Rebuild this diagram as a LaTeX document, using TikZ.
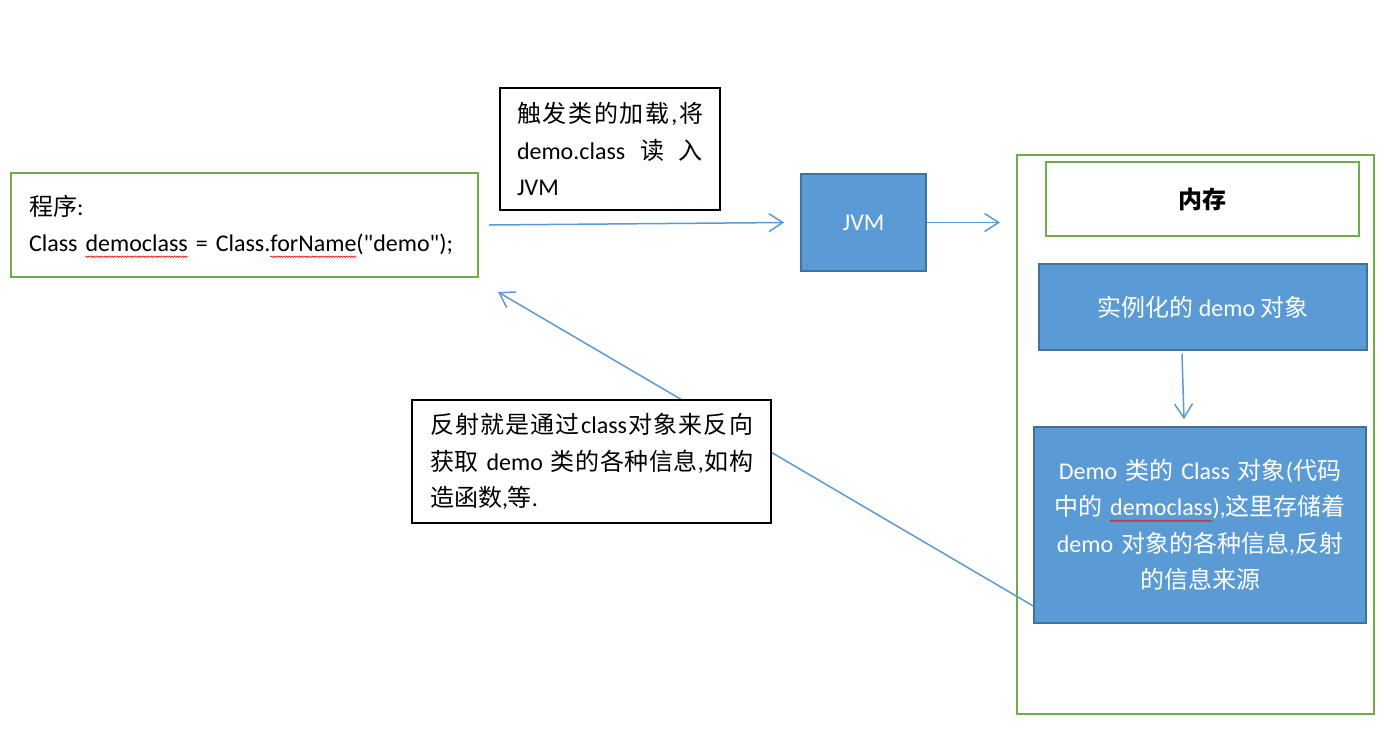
\documentclass[tikz,border=0pt]{standalone}
\usepackage{fontspec}
\setmainfont{Carlito}
\newfontfamily\cjk{Noto Sans CJK SC}
\usetikzlibrary{arrows.meta,decorations.pathmorphing}
\definecolor{gr}{HTML}{70AD47}
\definecolor{bl}{HTML}{5B9BD5}
\definecolor{bd}{HTML}{41719C}
\newcommand\zh[1]{{\cjk #1}}
\newcommand\dq{\XeTeXglyph\XeTeXcharglyph"22\relax}
\newcommand\jline[2]{\leavevmode\hbox to #1{#2}}
\newlength\sqw
\newcommand\sq[1]{\settowidth\sqw{#1}\leavevmode\rlap{\tikz[baseline=0pt]{\useasboundingbox (0pt,0pt);\draw[overlay,red,line width=0.6pt,decorate,decoration={zigzag,amplitude=0.7pt,segment length=2.6pt}] (0pt,-5pt) -- (\sqw,-5pt);}}#1}
\begin{document}
\begin{tikzpicture}[x=1pt,y=-1pt,
  every node/.style={font=\fontsize{24}{36.5}\selectfont, inner sep=0pt},
  gbox/.style={draw=gr, line width=2pt},
  nbox/.style={draw=black, line width=2pt, fill=white},
  bbox/.style={draw=bd, fill=bl, line width=1.5pt, text=white},
  conn/.style={draw=bl, line width=1.5pt, -{Straight Barb[length=14pt,width=18pt]}}]
\useasboundingbox (0,0) rectangle (1384,742);
\fill[white] (0,0) rectangle (1384,742);

\node[gbox, minimum width=467pt, minimum height=104pt, text width=431pt, inner xsep=18pt, align=left] (prog) at (244.5,225)
  {\zh{程序}:\\Class \sq{democlass} = Class.\sq{forName}(\dq demo\dq);};

\node[nbox, minimum width=220pt, minimum height=122pt, text width=186pt, inner xsep=17pt, align=left] (load) at (610,149)
  {\jline{186pt}{\zh{触}\hfill\zh{发}\hfill\zh{类}\hfill\zh{的}\hfill\zh{加}\hfill\zh{载}\hfill,\hfill\zh{将}}\\
   \jline{186pt}{demo.class\hfill\zh{读}\hfill\zh{入}}\\
   JVM};

\node[bbox, minimum width=125pt, minimum height=97pt] (jvm) at (863.5,222.5) {JVM};

\node[gbox, minimum width=357pt, minimum height=559pt] (mem) at (1195.5,434.5) {};
\node[gbox, minimum width=313pt, minimum height=74pt] (memt) at (1202.5,199) {\cjk\bfseries 内存};
\node[bbox, minimum width=328pt, minimum height=86pt] (inst) at (1203,307) {\zh{实例化的} demo \zh{对象}};
\node[bbox, minimum width=332pt, minimum height=196pt, text width=310pt, align=center] (dcls) at (1200,525)
  {Demo \zh{类的} Class \zh{对象}(\zh{代码}\\
   \zh{中的} \sq{democlass}),\zh{这里存储着}\\
   demo \zh{对象的各种信息},\zh{反射}\\
   \zh{的信息来源}};

\coordinate (memin) at (1000,222.5);
\coordinate (progin) at (498,292);

\draw[conn] ([xshift=10pt]prog.east) -- ([xshift=-16pt]jvm.west);
\draw[conn] (jvm.east) -- (memin);
\draw[conn] ([xshift=-21pt,yshift=-3pt]inst.south) -- ([xshift=-16pt,yshift=7pt]dcls.north);
\draw[conn] ([yshift=-81pt]dcls.west) -- (progin);

\node[nbox, minimum width=359pt, minimum height=123pt, text width=323pt, inner xsep=18pt, align=left] (refl) at (591.5,461.5)
  {\jline{323pt}{\zh{反}\hfill\zh{射}\hfill\zh{就}\hfill\zh{是}\hfill\zh{通}\hfill\zh{过}\hfill class\hfill\zh{对}\hfill\zh{象}\hfill\zh{来}\hfill\zh{反}\hfill\zh{向}}\\
   \jline{323pt}{\zh{获}\hfill\zh{取}\ demo\ \zh{类}\hfill\zh{的}\hfill\zh{各}\hfill\zh{种}\hfill\zh{信}\hfill\zh{息},\hfill\zh{如}\hfill\zh{构}}\\
   \zh{造函数},\zh{等}.};
\end{tikzpicture}
\end{document}
